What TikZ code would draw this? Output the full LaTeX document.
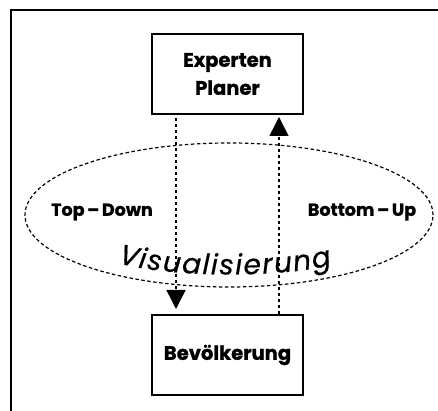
\documentclass[tikz,border=0pt]{standalone}
\usepackage{fontspec}
\setmainfont{Poppins}[BoldFeatures={FakeBold=1.2}]
\newfontfamily\visfont{Poppins}[FakeBold=0.6]
\usetikzlibrary{arrows.meta,decorations.text,shapes.geometric}
\newcommand{\sdash}{\hspace{0.15em}–\hspace{0.15em}}
\tikzset{
  box/.style={draw, line width=2pt, minimum width=151pt, minimum height=80pt, align=center,
    font=\bfseries\fontsize{19.5}{28}\selectfont, inner sep=0pt},
  flow/.style={line width=1.5pt, dash pattern=on 3pt off 3pt, -{Triangle[width=19pt,length=19pt]}},
  lbl/.style={font=\bfseries\fontsize{17.5}{20}\selectfont, inner sep=0pt},
  oval/.style={draw, ellipse, line width=1.2pt, dash pattern=on 3.5pt off 2.5pt, minimum width=408pt, minimum height=144pt, inner sep=0pt}
}
\begin{document}
\begin{tikzpicture}[x=1pt,y=1pt]
\useasboundingbox (0,0) rectangle (438,411);
\draw[line width=1.2pt] (11,0) -- (11,401) -- (438,401);
\node[oval] (vis) at (229,196) {};
\node[box] (top) at (227.5,337) {Experten\\Planer};
\node[box] (bot) at (227.5,56) {Bevölkerung};
\draw[flow] ([xshift=-51.5pt,yshift=-3pt]top.south) -- ([xshift=-51.5pt,yshift=5pt]bot.north);
\draw[flow] ([xshift=51.5pt]bot.north) -- ([xshift=51.5pt,yshift=-2pt]top.south);
\node[lbl] (td) at (102,199) {Top\sdash Down};
\node[lbl] (bu) at (362,199) {Bottom\sdash Up};
\path[decorate, decoration={text along path, text align=fit to path,
  text={|\visfont\itshape\fontsize{28}{28}\selectfont|Visualisierung}}]
  (118,148) .. controls (170,133) and (280,133) .. (332,146);
\end{tikzpicture}
\end{document}
